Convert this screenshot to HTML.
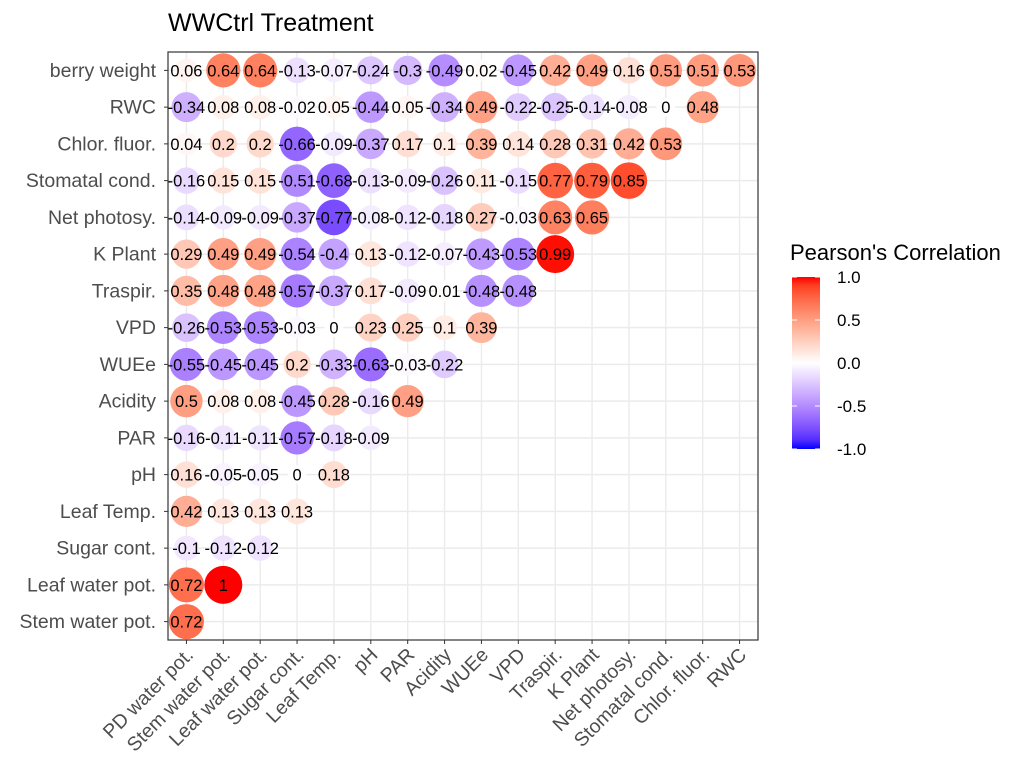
<!DOCTYPE html>
<html><head><meta charset="utf-8"><style>
body{margin:0;background:#fff;font-family:"Liberation Sans",sans-serif}
</style></head><body>
<svg id="chart" width="1017" height="774" xmlns="http://www.w3.org/2000/svg"></svg>
<script>
const colLabels=["PD water pot.","Stem water pot.","Leaf water pot.","Sugar cont.","Leaf Temp.","pH","PAR","Acidity","WUEe","VPD","Traspir.","K Plant","Net photosy.","Stomatal cond.","Chlor. fluor.","RWC"];
const rowLabels=["berry weight","RWC","Chlor. fluor.","Stomatal cond.","Net photosy.","K Plant","Traspir.","VPD","WUEe","Acidity","PAR","pH","Leaf Temp.","Sugar cont.","Leaf water pot.","Stem water pot."];
const rowBerry=[0.06,0.64,0.64,-0.13,-0.07,-0.24,-0.3,-0.49,0.02,-0.45,0.42,0.49,0.16,0.51,0.51,0.53];
const rowRWC=[-0.34,0.08,0.08,-0.02,0.05,-0.44,0.05,-0.34,0.49,-0.22,-0.25,-0.14,-0.08,0,0.48];
const rowChlor=[0.04,0.2,0.2,-0.66,-0.09,-0.37,0.17,0.1,0.39,0.14,0.28,0.31,0.42,0.53];
const rowStomatal=[-0.16,0.15,0.15,-0.51,-0.68,-0.13,-0.09,-0.26,0.11,-0.15,0.77,0.79,0.85];
const rowNet=[-0.14,-0.09,-0.09,-0.37,-0.77,-0.08,-0.12,-0.18,0.27,-0.03,0.63,0.65];
const rowK=[0.29,0.49,0.49,-0.54,-0.4,0.13,-0.12,-0.07,-0.43,-0.53,0.99];
const rowTraspir=[0.35,0.48,0.48,-0.57,-0.37,0.17,-0.09,0.01,-0.48,-0.48];
const rowVPD=[-0.26,-0.53,-0.53,-0.03,0,0.23,0.25,0.1,0.39];
const rowWUEe=[-0.55,-0.45,-0.45,0.2,-0.33,-0.63,-0.03,-0.22];
const rowAcidity=[0.5,0.08,0.08,-0.45,0.28,-0.16,0.49];
const rowPAR=[-0.16,-0.11,-0.11,-0.57,-0.18,-0.09];
const rowPH=[0.16,-0.05,-0.05,0,0.18];
const rowLeafTemp=[0.42,0.13,0.13,0.13];
const rowSugar=[-0.1,-0.12,-0.12];
const rowLeafWater=[0.72,1];
const rowStem=[0.72];
const values=[rowBerry,rowRWC,rowChlor,rowStomatal,rowNet,rowK,rowTraspir,rowVPD,rowWUEe,rowAcidity,rowPAR,rowPH,rowLeafTemp,rowSugar,rowLeafWater,rowStem];
const legendTicks=[1.0,0.5,0.0,-0.5,-1.0];

const NS="http://www.w3.org/2000/svg";
const svg=document.getElementById('chart');
function mk(t,a,p){const e=document.createElementNS(NS,t);for(const k in a)e.setAttribute(k,a[k]);(p||svg).appendChild(e);return e;}
const L=168,R=758,T=52,B=640;
const cw=(R-L)/colLabels.length, rh=(B-T)/rowLabels.length;
const xPos=i=>L+cw*(i+0.5), yPos=j=>T+rh*(j+0.5);
function toLab(r,g,b){const f=c=>{c/=255;return c<=0.04045?c/12.92:Math.pow((c+0.055)/1.055,2.4)};r=f(r);g=f(g);b=f(b);
let x=(0.4124*r+0.3576*g+0.1805*b)/0.95047,y=0.2126*r+0.7152*g+0.0722*b,z=(0.0193*r+0.1192*g+0.9505*b)/1.08883;
const h=t=>t>0.008856?Math.cbrt(t):7.787*t+16/116;x=h(x);y=h(y);z=h(z);return[116*y-16,500*(x-y),200*(y-z)];}
function fromLab(l,a,b){let y=(l+16)/116,x=a/500+y,z=y-b/200;const h=t=>t*t*t>0.008856?t*t*t:(t-16/116)/7.787;
x=h(x)*0.95047;y=h(y);z=h(z)*1.08883;let r=3.2406*x-1.5372*y-0.4986*z,g=-0.9689*x+1.8758*y+0.0415*z,bb=0.0557*x-0.2040*y+1.0570*z;
const f=c=>{c=c<=0.0031308?12.92*c:1.055*Math.pow(c,1/2.4)-0.055;return Math.max(0,Math.min(255,Math.round(c*255)))};return`rgb(${f(r)},${f(g)},${f(bb)})`;}
const W=toLab(255,255,255),RD=toLab(255,0,0),BL=toLab(0,0,255);
function col(v){const t=Math.min(1,Math.abs(v)),e=v>=0?RD:BL;return fromLab(W[0]+(e[0]-W[0])*t,W[1]+(e[1]-W[1])*t,W[2]+(e[2]-W[2])*t);}
const tt=mk('text',{x:168,y:31,'font-size':25,fill:'#000'});tt.textContent='WWCtrl Treatment';


const g=mk('g',{});
colLabels.forEach((c,i)=>mk('line',{x1:xPos(i),x2:xPos(i),y1:T,y2:B,stroke:'#ebebeb','stroke-width':1.4},g));
rowLabels.forEach((c,j)=>mk('line',{x1:L,x2:R,y1:yPos(j),y2:yPos(j),stroke:'#ebebeb','stroke-width':1.4},g));
values.forEach((row,j)=>row.forEach((v,i)=>{
 const r=9.4+9.6*Math.sqrt(Math.abs(v));
 const c=mk('circle',{cx:xPos(i),cy:yPos(j),r:r,fill:col(v)});
 
 
}));
values.forEach((row,j)=>row.forEach((v,i)=>{
 const t=mk('text',{x:xPos(i),y:yPos(j)+6,'font-size':16.5,'text-anchor':'middle',fill:'#000'});t.textContent=String(v);
 
 
}));
const br=mk('rect',{x:L,y:T,width:R-L,height:B-T,fill:'none',stroke:'#333','stroke-width':1.2});

rowLabels.forEach((lab,j)=>{
 mk('line',{x1:L-4,x2:L,y1:yPos(j),y2:yPos(j),stroke:'#333'});
 const t=mk('text',{x:L-12,y:yPos(j)+6.5,'font-size':19.5,'text-anchor':'end',fill:'#4d4d4d'});t.textContent=lab;
 
 
});
colLabels.forEach((lab,i)=>{
 mk('line',{x1:xPos(i),x2:xPos(i),y1:B,y2:B+4,stroke:'#333'});
 const x=xPos(i)+8,y=B+16;
 const t=mk('text',{x:x,y:y,'font-size':19.5,'text-anchor':'end',fill:'#4d4d4d',transform:`rotate(-45 ${x} ${y})`});t.textContent=lab;
 
 
});
const lt=mk('text',{x:790,y:260,'font-size':22,fill:'#000'});lt.textContent="Pearson's Correlation";

const lgTop=277,lgBot=449,lgX=792,lgW=28;
const defs=mk('defs',{});const grad=mk('linearGradient',{id:'lg',x1:0,y1:0,x2:0,y2:1},defs);
for(let k=0;k<=20;k++){const v=1-k/10;mk('stop',{offset:(k/20),'stop-color':col(v)},grad);}
const bar=mk('rect',{x:lgX,y:lgTop,width:lgW,height:lgBot-lgTop,fill:'url(#lg)'});

const ly=v=>lgTop+(1-v)/2*(lgBot-lgTop);
legendTicks.forEach(v=>{
 mk('line',{x1:lgX,x2:lgX+5,y1:ly(v),y2:ly(v),stroke:'#fff'});
 mk('line',{x1:lgX+lgW-5,x2:lgX+lgW,y1:ly(v),y2:ly(v),stroke:'#fff'});
 const t=mk('text',{x:837,y:ly(v)+6,'font-size':17,fill:'#000'});t.textContent=v.toFixed(1);
 
 
});
</script>
</body></html>
